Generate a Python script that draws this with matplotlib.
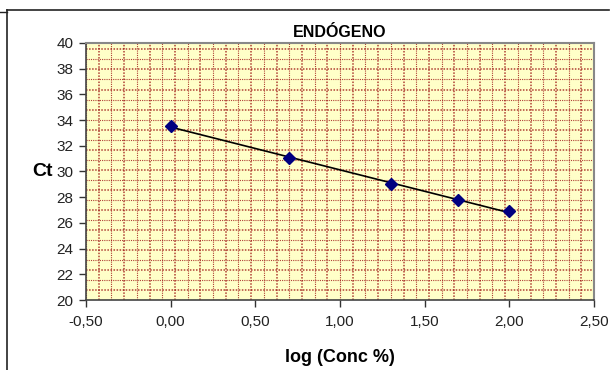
import numpy as np
import matplotlib
matplotlib.use("Agg")
from matplotlib import pyplot as plt
from matplotlib.lines import Line2D
from matplotlib.ticker import FuncFormatter

# data
log_conc = [0.0, 0.699, 1.301, 1.699, 2.0]
ct = [33.55, 31.05, 29.0, 27.8, 26.9]
title = "ENDÓGENO"

plt.rcParams['font.family'] = ['Liberation Sans', 'DejaVu Sans']

W, H = 610, 370
fig = plt.figure(figsize=(W / 100, H / 100), dpi=100)
ax = fig.add_axes([86 / W, 1 - 300 / H, 508 / W, 257 / H])
ax.set_facecolor('#FFFFC8')

ax.set_xlim(-0.5, 2.5)
ax.set_ylim(20, 40)

# dotted texture of the plot area
for i, gx in enumerate(np.arange(-0.5, 2.5, 0.075)):
    ax.axvline(gx, color='#9B1010', lw=1.1 if i % 2 else 0.8, ls=(0, (1, 1)),
               alpha=0.8, zorder=0)
for i, gy in enumerate(np.arange(20, 40, 0.78)):
    ax.axhline(gy, color='#9B1010', lw=1.1 if i % 2 else 0.8, ls=(0, (1, 1)),
               alpha=0.8, zorder=0)

# linear trendline
slope, inter = np.polyfit(log_conc, ct, 1)
xs = np.array([min(log_conc), max(log_conc)])
ax.plot(xs, slope * xs + inter, color='black', lw=1.2, zorder=2)
ax.plot(log_conc, ct, ls='none', marker='D', ms=6.5, color='#000080', zorder=3)

ax.set_xticks(np.arange(-0.5, 2.51, 0.5))
ax.set_yticks(np.arange(20, 41, 2))
ax.xaxis.set_major_formatter(FuncFormatter(lambda v, p: f"{v:.2f}".replace('.', ',')))
ax.tick_params(direction='out', length=5, width=1, labelsize=11, colors='#333333',
               labelcolor='#222222')
ax.tick_params(axis='x', pad=6)
ax.tick_params(axis='y', pad=4)

for s in ['left', 'bottom']:
    ax.spines[s].set_color('#444444')
    ax.spines[s].set_linewidth(1.2)
for s in ['right', 'top']:
    ax.spines[s].set_color('#888888')
    ax.spines[s].set_linewidth(1.5)

ax.set_title(title, fontsize=11.5, fontweight='bold', pad=4)
ax.set_xlabel('log (Conc %)', fontsize=13, fontweight='bold', labelpad=14)
ax.set_ylabel('Ct', fontsize=14, fontweight='bold', rotation=0, labelpad=10, va='center')

# chart frame
fig.add_artist(Line2D([7 / W, 609 / W], [1 - 10 / H, 1 - 10 / H], color='#222222', lw=1.2))
fig.add_artist(Line2D([7 / W, 7 / W], [1 - 10 / H, 0], color='#222222', lw=1.2))
fig.add_artist(Line2D([0, 7 / W], [1 - 12 / H, 1 - 12 / H], color='#222222', lw=1.0))

fig.savefig('out.png', dpi=100)
